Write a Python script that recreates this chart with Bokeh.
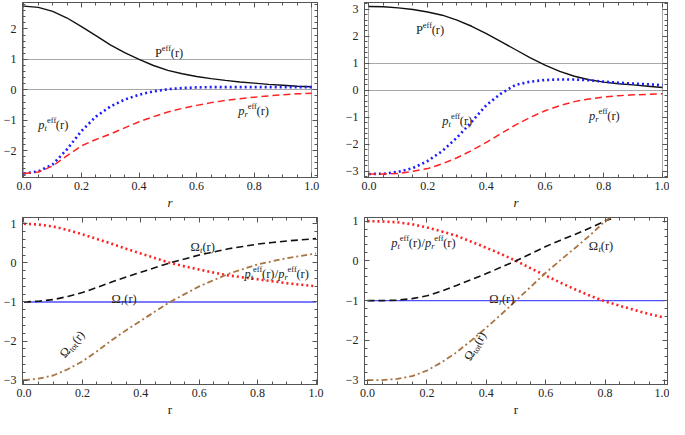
import math
from bokeh.plotting import figure
from bokeh.layouts import gridplot
from bokeh.models import Range1d, FixedTicker, LinearAxis, CustomJSTickFormatter, NumeralTickFormatter
from bokeh.core.properties import value
from bokeh.embed import file_html
from bokeh.resources import INLINE

# ---------------- data ----------------
R = [0.0, 0.05, 0.1, 0.15, 0.2, 0.25, 0.3, 0.35, 0.4, 0.45, 0.5,
     0.55, 0.6, 0.65, 0.7, 0.75, 0.8, 0.85, 0.9, 0.95, 1.0]

# panel (a) top-left
A_P = [2.75, 2.71, 2.58, 2.36, 2.08, 1.78, 1.48, 1.22, 1.00, 0.80, 0.64,
       0.53, 0.44, 0.37, 0.31, 0.26, 0.22, 0.18, 0.15, 0.12, 0.10]
A_PT = [-2.75, -2.68, -2.45, -1.95, -1.35, -0.88, -0.55, -0.32, -0.16, -0.05, 0.02,
        0.06, 0.08, 0.09, 0.09, 0.09, 0.09, 0.09, 0.09, 0.09, 0.09]
A_PR = [-2.75, -2.70, -2.50, -2.16, -1.84, -1.63, -1.45, -1.25, -1.05, -0.88, -0.73,
        -0.61, -0.51, -0.42, -0.35, -0.29, -0.24, -0.20, -0.16, -0.13, -0.11]

# panel (b) top-right
B_P = [3.10, 3.09, 3.05, 2.99, 2.90, 2.78, 2.60, 2.37, 2.10, 1.80, 1.50,
       1.20, 0.93, 0.70, 0.52, 0.39, 0.30, 0.24, 0.20, 0.15, 0.10]
B_PT = [-3.10, -3.09, -3.02, -2.88, -2.62, -2.25, -1.75, -1.17, -0.55, -0.12, 0.20,
        0.32, 0.38, 0.40, 0.40, 0.37, 0.32, 0.28, 0.25, 0.22, 0.19]
B_PR = [-3.10, -3.10, -3.08, -3.00, -2.90, -2.72, -2.50, -2.23, -1.93, -1.60, -1.28,
        -1.00, -0.76, -0.57, -0.42, -0.32, -0.25, -0.20, -0.17, -0.15, -0.13]

# panel (c) bottom-left
C_RATIO = [1.00, 0.98, 0.93, 0.84, 0.73, 0.61, 0.49, 0.36, 0.24, 0.12, 0.00,
           -0.09, -0.17, -0.25, -0.32, -0.37, -0.42, -0.47, -0.52, -0.56, -0.60]
C_OMT = [-1.00, -0.98, -0.94, -0.86, -0.76, -0.63, -0.49, -0.36, -0.24, -0.12, 0.00,
         0.10, 0.20, 0.28, 0.36, 0.42, 0.48, 0.52, 0.56, 0.59, 0.62]
C_OMR = [-1.0] * 21
C_OMTOT = [-3.00, -2.96, -2.88, -2.72, -2.52, -2.26, -1.98, -1.72, -1.48, -1.24, -1.00,
           -0.80, -0.60, -0.44, -0.28, -0.16, -0.04, 0.04, 0.12, 0.18, 0.24]

# panel (d) bottom-right
R_D = [0.0, 0.05, 0.1, 0.15, 0.2, 0.25, 0.3, 0.35, 0.4, 0.45, 0.5,
       0.55, 0.6, 0.65, 0.7, 0.75, 0.8, 0.82]
D_RATIO = [1.00, 0.99, 0.97, 0.92, 0.84, 0.74, 0.63, 0.48, 0.33, 0.17, 0.00,
           -0.19, -0.37, -0.55, -0.72, -0.88, -1.02, -1.13, -1.24, -1.34, -1.43]
D_OMT = [-1.00, -1.00, -0.99, -0.95, -0.88, -0.76, -0.62, -0.47, -0.32, -0.16, 0.00,
         0.18, 0.36, 0.52, 0.67, 0.83, 1.00, 1.06]
D_OMR = [-1.0] * 21
D_OMTOT = [-3.00, -3.00, -2.97, -2.90, -2.76, -2.55, -2.30, -2.00, -1.68, -1.35, -1.00,
           -0.65, -0.30, 0.02, 0.33, 0.65, 1.00, 1.10]

X_TICKS = [0.0, 0.2, 0.4, 0.6, 0.8, 1.0]
X_MINOR = [round(0.05 * i, 2) for i in range(21)]

FONT = "'Liberation Serif', 'Times New Roman', serif"
TXT = "#222222"
FRAME = "#555555"

WID = {"P": 0.556, "e": 0.444, "f": 0.30, "(": 0.333, "r": 0.36, ")": 0.333,
       "p": 0.5, "t": 0.278, "o": 0.5, "/": 0.278, "\u03a9": 0.77}


def adv(s, size):
    return sum(WID.get(c, 0.5) for c in s) * size


def rich(p, x, y, segs, angle_deg=0.0):
    th = math.radians(angle_deg)
    c, s = math.cos(th), math.sin(th)
    a = 0.0
    for text, size, rise, style in segs:
        ox = a * c - rise * s
        oy = -a * s - rise * c
        p.text(x=[x], y=[y], text=[text], x_offset=ox, y_offset=oy, angle=th,
               text_font=value(FONT), text_font_size=value(f"{size}px"),
               text_font_style=value(style), text_color=TXT,
               text_align="left", text_baseline="alphabetic")
        a += adv(text, size)


BIG, SMALL = 12.5, 8.5
P_EFF = [("P", BIG, 0, "normal"), ("eff", SMALL, 5, "normal"), ("(r)", BIG, 0, "normal")]
PT_EFF = [("p", BIG, 0, "italic"), ("t", SMALL, -3, "italic"), ("eff", SMALL, 5, "normal"),
          ("(r)", BIG, 0, "normal")]
PR_EFF = [("p", BIG, 0, "italic"), ("r", SMALL, -3, "italic"), ("eff", SMALL, 5, "normal"),
          ("(r)", BIG, 0, "normal")]
RATIO = PT_EFF + [("/", BIG, 0, "normal")] + PR_EFF
OM_T = [("\u03a9", BIG, 0, "normal"), ("t", SMALL, -3, "italic"), ("(r)", BIG, 0, "normal")]
OM_R = [("\u03a9", BIG, 0, "normal"), ("r", SMALL, -3, "italic"), ("(r)", BIG, 0, "normal")]
OM_TOT = [("\u03a9", BIG, 0, "normal"), ("tot", SMALL, -3, "normal"), ("(r)", BIG, 0, "normal")]

YFMT = "return tick < 0 ? '\\u2212' + Math.abs(tick) : '' + tick;"


def make_fig(w, h, xr, yr, yticks, bl, br, bt, bb, xlabel_style, grid):
    p = figure(width=w, height=h, x_range=Range1d(*xr), y_range=Range1d(*yr),
               output_backend="svg", toolbar_location=None,
               min_border_left=bl, min_border_right=br, min_border_top=bt, min_border_bottom=bb)
    p.background_fill_color = "white"
    p.border_fill_color = "white"
    p.outline_line_color = FRAME
    bottom = p.below[0]
    left = p.left[0]
    ymin, ymax = min(yticks) - 1, max(yticks) + 1
    yminor = [round(ymin + 0.2 * i, 2) for i in range(int(round((ymax - ymin) / 0.2)) + 1)]
    xt = FixedTicker(ticks=X_TICKS, minor_ticks=X_MINOR)
    yt = FixedTicker(ticks=yticks, minor_ticks=yminor)
    bottom.ticker = xt
    left.ticker = yt
    bottom.formatter = NumeralTickFormatter(format="0.0")
    left.formatter = CustomJSTickFormatter(code=YFMT)
    top = LinearAxis(ticker=xt, formatter=CustomJSTickFormatter(code="return '';"))
    right = LinearAxis(ticker=yt, formatter=CustomJSTickFormatter(code="return '';"))
    p.add_layout(top, "above")
    p.add_layout(right, "right")
    for ax in [bottom, left, top, right]:
        ax.axis_line_color = FRAME
        ax.major_tick_line_color = FRAME
        ax.minor_tick_line_color = FRAME
        ax.major_tick_in = 5
        ax.major_tick_out = 0
        ax.minor_tick_in = 3
        ax.minor_tick_out = 0
        ax.major_label_text_font = FONT
        ax.major_label_text_font_size = "12px"
        ax.major_label_text_color = TXT
    for ax in [top, right]:
        ax.major_label_standoff = 0
        ax.major_label_text_font_size = "0px"
    bottom.major_label_standoff = 4
    left.major_label_standoff = 6
    bottom.axis_label = "r"
    bottom.axis_label_text_font = FONT
    bottom.axis_label_text_font_size = "13px"
    bottom.axis_label_text_font_style = xlabel_style
    bottom.axis_label_text_color = TXT
    bottom.axis_label_standoff = 2
    if grid:
        p.xgrid.ticker = FixedTicker(ticks=[0.0, 1.0])
        p.ygrid.ticker = FixedTicker(ticks=[0.0, 1.0])
        p.xgrid.grid_line_color = "#a8a8a8"
        p.ygrid.grid_line_color = "#a8a8a8"
    else:
        p.xgrid.visible = False
        p.ygrid.visible = False
    return p


BLACK = "#111111"
BLUE = "#1c1cff"
RED = "#ff2222"
BROWN = "#a87442"
LBLUE = "#4f4fff"

# ---- panel a ----
pa = make_fig(335, 212, (-0.005, 1.02), (-2.88, 2.87), [-2, -1, 0, 1, 2], 22, 17, 2, 32, "italic", True)
pa.line(R, A_P, line_color=BLACK, line_width=1.4)
pa.line(R, A_PT, line_color=BLUE, line_width=2.6, line_dash="2 3")
pa.line(R, A_PR, line_color=RED, line_width=1.5, line_dash="7 4")
rich(pa, 0.455, 1.22, P_EFF)
rich(pa, 0.05, -1.16, PT_EFF)
rich(pa, 0.745, -0.69, PR_EFF)

# ---- panel b ----
pb = make_fig(334, 212, (-0.015, 1.017), (-3.23, 3.25), [-3, -2, -1, 0, 1, 2, 3], 29, 2, 2, 28, "italic", True)
pb.line(R, B_P, line_color=BLACK, line_width=1.4)
pb.line(R, B_PT, line_color=BLUE, line_width=2.6, line_dash="2 3")
pb.line(R, B_PR, line_color=RED, line_width=1.5, line_dash="7 4")
rich(pb, 0.16, 2.25, P_EFF)
rich(pb, 0.25, -1.15, PT_EFF)
rich(pb, 0.75, -0.96, PR_EFF)

# ---- panel c ----
pc = make_fig(335, 207, (-0.005, 1.005), (-3.11, 1.16), [-3, -2, -1, 0, 1], 22, 18, 5, 28, "normal", False)
pc.line(R, C_OMR, line_color=LBLUE, line_width=1.4)
pc.line(R, C_RATIO, line_color=RED, line_width=2.6, line_dash="2 3")
pc.line(R, C_OMT, line_color=BLACK, line_width=1.6, line_dash="7 4")
pc.line(R, C_OMTOT, line_color=BROWN, line_width=1.8, line_dash="6 3 2 3")
rich(pc, 0.57, 0.40, OM_T)
rich(pc, 0.755, -0.29, RATIO)
rich(pc, 0.30, -0.93, OM_R)
rich(pc, 0.13, -2.38, OM_TOT, 49)

# ---- panel d ----
pd_ = make_fig(334, 207, (-0.01, 1.01), (-3.11, 1.09), [-3, -2, -1, 0, 1], 29, 2, 5, 26, "normal", False)
pd_.line(R, D_OMR, line_color=LBLUE, line_width=1.4)
pd_.line(R, D_RATIO, line_color=RED, line_width=2.6, line_dash="2 3")
pd_.line(R_D, D_OMT, line_color=BLACK, line_width=1.6, line_dash="7 4")
pd_.line(R_D, D_OMTOT, line_color=BROWN, line_width=1.8, line_dash="6 3 2 3")
rich(pd_, 0.08, 0.45, RATIO)
rich(pd_, 0.745, 0.38, OM_T)
rich(pd_, 0.41, -0.96, OM_R)
rich(pd_, 0.335, -2.48, OM_TOT, 59)

grid = gridplot([[pa, pb], [pc, pd_]], toolbar_location=None)
open("out.html", "w").write(file_html(grid, INLINE))
